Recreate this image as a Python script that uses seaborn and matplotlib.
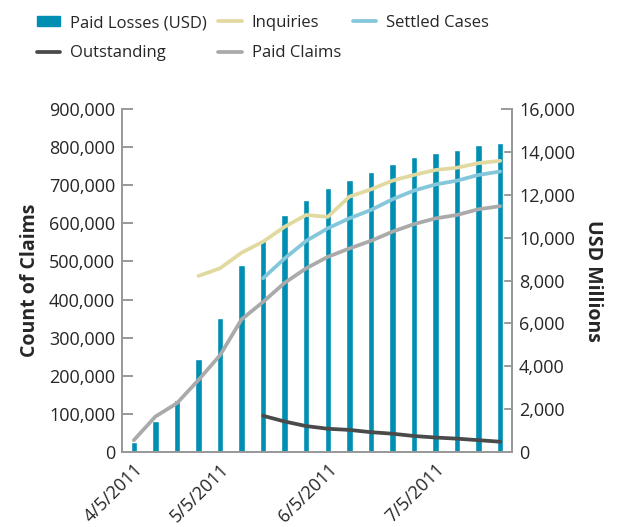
import numpy as np
import pandas as pd
import matplotlib
matplotlib.use("Agg")
import matplotlib.pyplot as plt
import seaborn as sns
from matplotlib.patches import Patch
from matplotlib.lines import Line2D
from matplotlib.ticker import FuncFormatter, MultipleLocator

# one entry per report date (categorical x)
DATES = ["4/5/2011", "4/12/2011", "4/19/2011", "4/27/2011", "5/5/2011", "5/11/2011",
         "5/17/2011", "5/24/2011", "5/30/2011", "6/5/2011", "6/11/2011", "6/17/2011",
         "6/23/2011", "6/29/2011", "7/5/2011", "7/11/2011", "7/18/2011", "7/25/2011"]
TICK_LABELS = ["4/5/2011", "5/5/2011", "6/5/2011", "7/5/2011"]

# USD millions (right axis)
PAID_LOSSES = [480, 1450, 2430, 4340, 6250, 8720, 9890, 11060, 11760, 12320,
               12690, 13080, 13440, 13760, 13960, 14090, 14320, 14430]

# counts of claims (left axis)
NA = np.nan
INQUIRIES = [NA, NA, NA, 462000, 482000, 523000, 552000, 591000, 622000, 617000,
             670000, 689000, 712000, 727000, 740000, 746000, 758000, 764000]
SETTLED = [NA, NA, NA, NA, NA, NA, 456000, 508000, 554000, 587000,
           613000, 635000, 663000, 686000, 702000, 712000, 727000, 736000]
OUTSTANDING = [NA, NA, NA, NA, NA, NA, 95000, 80000, 68000, 61000,
               58000, 52000, 48000, 42000, 38000, 35000, 31000, 27000]
PAID_CLAIMS = [31000, 93000, 128000, 189000, 254000, 348000, 394000, 444000, 482000, 512000,
               534000, 554000, 578000, 598000, 613000, 622000, 637000, 645000]

BAR_COLOR = "#008fb3"
COLORS = {"Inquiries": "#e2d9a0", "Settled Cases": "#85c7da",
          "Outstanding": "#4a4a4a", "Paid Claims": "#aaaaaa"}

sns.set_style("white")
plt.rcParams["font.family"] = ["Open Sans", "DejaVu Sans"]

df = pd.DataFrame({"date": DATES, "pos": range(len(DATES)), "losses": PAID_LOSSES,
                   "Inquiries": INQUIRIES, "Settled Cases": SETTLED,
                   "Outstanding": OUTSTANDING, "Paid Claims": PAID_CLAIMS})

fig = plt.figure(figsize=(6.18, 5.27), dpi=100)
ax = fig.add_axes([122 / 618, 1 - 452 / 527, 390 / 618, 343 / 527])
ax2 = ax.twinx()

sns.barplot(data=df, x="pos", y="losses", ax=ax2, color=BAR_COLOR,
            width=0.3, saturation=1, native_scale=True)

for name in ["Paid Claims", "Inquiries", "Settled Cases", "Outstanding"]:
    sns.lineplot(data=df, x="pos", y=name, ax=ax, color=COLORS[name], lw=2.7)

ax.set_zorder(ax2.get_zorder() + 1)
ax.patch.set_visible(False)

ax.set_ylim(0, 900000)
ax2.set_ylim(0, 16000)
ax.yaxis.set_major_locator(MultipleLocator(100000))
ax2.yaxis.set_major_locator(MultipleLocator(2000))
fmt = FuncFormatter(lambda v, p: f"{int(v):,}")
ax.yaxis.set_major_formatter(fmt)
ax2.yaxis.set_major_formatter(fmt)

tick_pos = [DATES.index(t) for t in TICK_LABELS]
ax.set_xticks(tick_pos)
ax.set_xticklabels(TICK_LABELS, rotation=45, ha="right", rotation_mode="anchor")
ax.set_xlim(-0.55, len(DATES) - 0.45)

spine_c = "#999999"
for a in (ax, ax2):
    for s in a.spines.values():
        s.set_color(spine_c)
        s.set_linewidth(1.4)
    a.spines["top"].set_visible(False)
ax.tick_params(axis="y", direction="in", length=8, width=1.4, color=spine_c,
               labelsize=13, pad=5, left=True, right=False)
ax2.tick_params(axis="y", direction="in", length=8, width=1.4, color=spine_c,
                labelsize=13, pad=5, right=True, left=False)
ax.tick_params(axis="x", length=0, labelsize=13, pad=6)

ax.set_xlabel("")
ax2.set_xlabel("")
ax.set_ylabel("Count of Claims", fontsize=14, fontweight="bold", labelpad=6)
ax2.set_ylabel("USD Millions", fontsize=14, fontweight="bold", rotation=270, labelpad=20)

handles = [Patch(color=BAR_COLOR),
           Line2D([], [], color=COLORS["Outstanding"], lw=2.7),
           Line2D([], [], color=COLORS["Inquiries"], lw=2.7),
           Line2D([], [], color=COLORS["Paid Claims"], lw=2.7),
           Line2D([], [], color=COLORS["Settled Cases"], lw=2.7)]
labels = ["Paid Losses (USD)", "Outstanding", "Inquiries", "Paid Claims", "Settled Cases"]
fig.legend(handles, labels, ncol=3, loc="upper left", bbox_to_anchor=(0.035, 1.0),
           frameon=False, fontsize=12, handlelength=1.4, handleheight=0.6,
           columnspacing=0.7, labelspacing=0.85, handletextpad=0.6)

fig.savefig("out.png", dpi=100)
